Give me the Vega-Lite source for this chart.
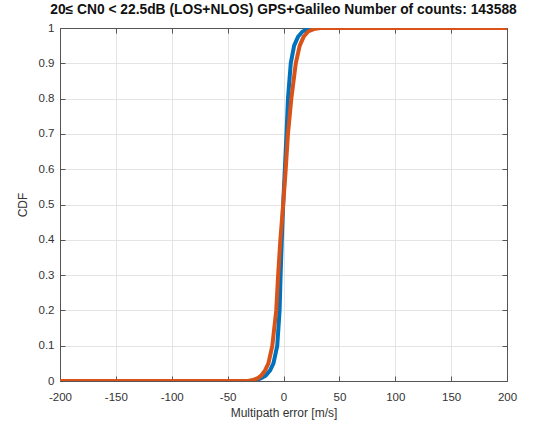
{
  "$schema": "https://vega.github.io/schema/vega-lite/v6.json",
  "width": 447,
  "height": 353,
  "autosize": {"type": "none"},
  "padding": {"left": 60, "top": 28, "right": 40, "bottom": 46},
  "background": "white",
  "title": {
    "text": "20≤ CN0 < 22.5dB (LOS+NLOS) GPS+Galileo Number of counts: 143588",
    "font": "Liberation Sans",
    "fontSize": 13.8,
    "fontWeight": "bold",
    "color": "#111",
    "offset": 5,
    "anchor": "middle"
  },
  "config": {
    "view": {"stroke": "#555", "strokeWidth": 1},
    "axis": {
      "labelFont": "Liberation Sans",
      "titleFont": "Liberation Sans",
      "labelFontSize": 11.5,
      "titleFontSize": 12,
      "labelColor": "#333",
      "titleColor": "#333",
      "titleFontWeight": "normal",
      "domainColor": "#555",
      "tickColor": "#555",
      "tickSize": -5,
      "gridColor": "#e4e4e4",
      "gridWidth": 1
    }
  },
  "data": {
    "values": [
      {"x": -200, "cdf": 0, "s": "A"},
      {"x": -30, "cdf": 0, "s": "A"},
      {"x": -24, "cdf": 0.003, "s": "A"},
      {"x": -20, "cdf": 0.008, "s": "A"},
      {"x": -16, "cdf": 0.015, "s": "A"},
      {"x": -12, "cdf": 0.03, "s": "A"},
      {"x": -9, "cdf": 0.05, "s": "A"},
      {"x": -5.6, "cdf": 0.1, "s": "A"},
      {"x": -3.5, "cdf": 0.2, "s": "A"},
      {"x": -2.6, "cdf": 0.3, "s": "A"},
      {"x": -1.5, "cdf": 0.4, "s": "A"},
      {"x": -0.3, "cdf": 0.5, "s": "A"},
      {"x": 1.2, "cdf": 0.6, "s": "A"},
      {"x": 2.7, "cdf": 0.7, "s": "A"},
      {"x": 4, "cdf": 0.8, "s": "A"},
      {"x": 6.5, "cdf": 0.9, "s": "A"},
      {"x": 9.5, "cdf": 0.95, "s": "A"},
      {"x": 13, "cdf": 0.975, "s": "A"},
      {"x": 17, "cdf": 0.99, "s": "A"},
      {"x": 22, "cdf": 0.997, "s": "A"},
      {"x": 28, "cdf": 1, "s": "A"},
      {"x": 200, "cdf": 1, "s": "A"},
      {"x": -200, "cdf": 0, "s": "B"},
      {"x": -32, "cdf": 0, "s": "B"},
      {"x": -27, "cdf": 0.003, "s": "B"},
      {"x": -23, "cdf": 0.008, "s": "B"},
      {"x": -20, "cdf": 0.015, "s": "B"},
      {"x": -16.5, "cdf": 0.03, "s": "B"},
      {"x": -13.5, "cdf": 0.05, "s": "B"},
      {"x": -10, "cdf": 0.1, "s": "B"},
      {"x": -6.5, "cdf": 0.2, "s": "B"},
      {"x": -4.8, "cdf": 0.3, "s": "B"},
      {"x": -2.8, "cdf": 0.4, "s": "B"},
      {"x": -0.3, "cdf": 0.5, "s": "B"},
      {"x": 2, "cdf": 0.6, "s": "B"},
      {"x": 4, "cdf": 0.7, "s": "B"},
      {"x": 7, "cdf": 0.8, "s": "B"},
      {"x": 11, "cdf": 0.9, "s": "B"},
      {"x": 14.5, "cdf": 0.95, "s": "B"},
      {"x": 18, "cdf": 0.975, "s": "B"},
      {"x": 22, "cdf": 0.99, "s": "B"},
      {"x": 27, "cdf": 0.997, "s": "B"},
      {"x": 33, "cdf": 1, "s": "B"},
      {"x": 200, "cdf": 1, "s": "B"}
    ]
  },
  "layer": [
    {
      "mark": {"type": "line", "strokeWidth": 4, "clip": true},
      "encoding": {
        "x": {
          "field": "x", "type": "quantitative",
          "scale": {"domain": [-200, 200], "nice": false, "zero": false},
          "axis": {"values": [-200, -150, -100, -50, 0, 50, 100, 150, 200], "title": "Multipath error [m/s]", "labelExpr": "replace(datum.label, '−', '-')", "labelPadding": 15, "titlePadding": 5, "labelFlush": false}
        },
        "y": {
          "field": "cdf", "type": "quantitative",
          "scale": {"domain": [0, 1], "nice": false},
          "axis": {"values": [0, 0.1, 0.2, 0.3, 0.4, 0.5, 0.6, 0.7, 0.8, 0.9, 1], "format": "~g", "title": "CDF", "labelPadding": 11, "titlePadding": 9, "labelFlush": false}
        },
        "color": {
          "field": "s", "type": "nominal",
          "scale": {"domain": ["A", "B"], "range": ["#0072BD", "#D95319"]},
          "legend": null
        },
        "order": {"field": "s"}
      }
    },
    {
      "mark": {"type": "rule", "opacity": 0},
      "encoding": {
        "x": {
          "datum": 0, "type": "quantitative",
          "axis": {"orient": "top", "values": [-200, -150, -100, -50, 0, 50, 100, 150, 200], "labels": false, "grid": false, "title": null}
        },
        "y": {
          "datum": 0, "type": "quantitative",
          "axis": {"orient": "right", "values": [0, 0.1, 0.2, 0.3, 0.4, 0.5, 0.6, 0.7, 0.8, 0.9, 1], "labels": false, "grid": false, "title": null}
        }
      }
    }
  ],
  "resolve": {"axis": {"x": "independent", "y": "independent"}}
}
